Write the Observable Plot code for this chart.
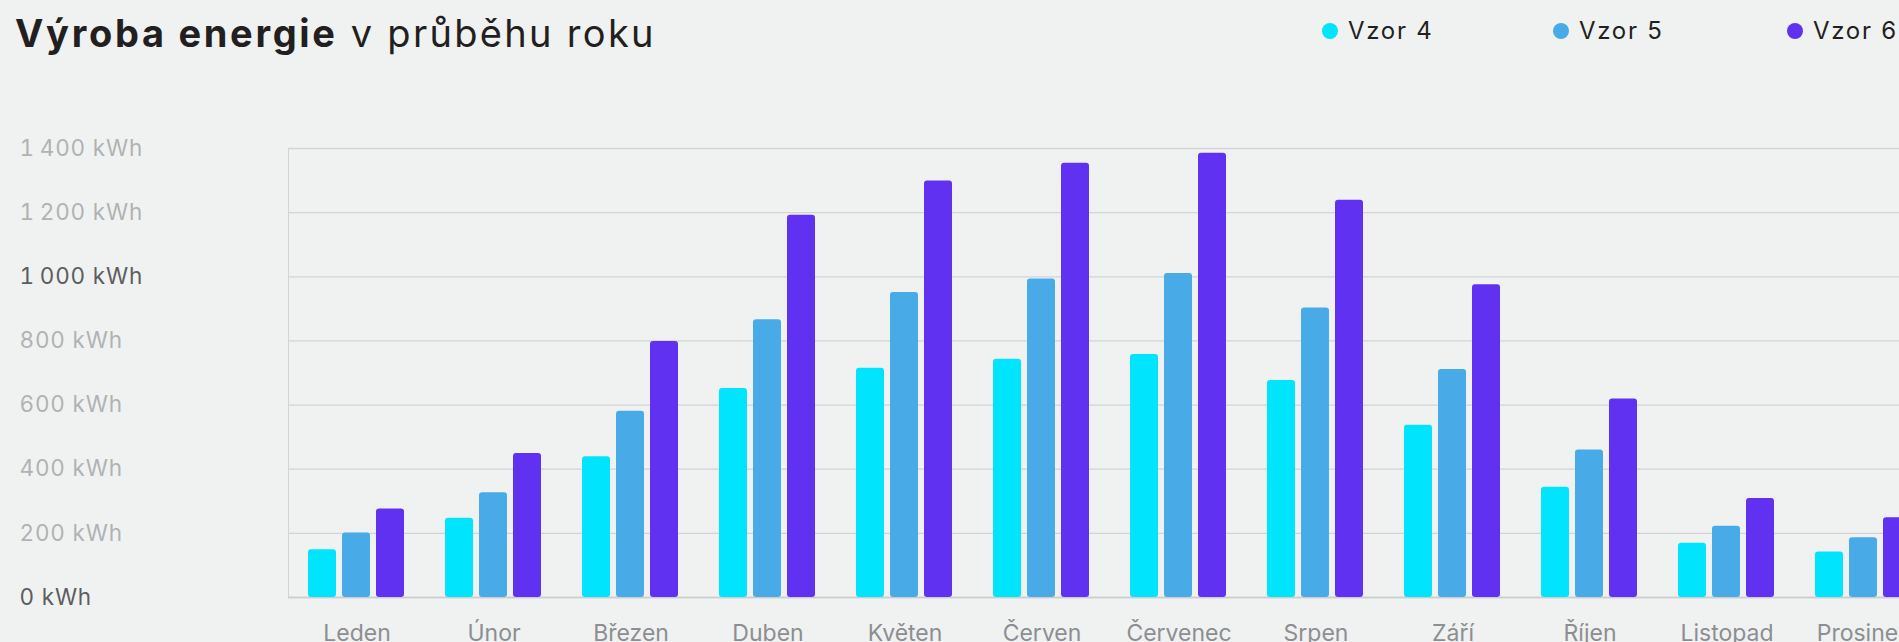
<!DOCTYPE html>
<html>
<head>
<meta charset="utf-8">
<script src="https://cdn.jsdelivr.net/npm/d3@7"></script>
<script src="https://cdn.jsdelivr.net/npm/@observablehq/plot@0.6"></script>
<style>
  html, body { margin: 0; padding: 0; background: #f0f2f1; overflow: hidden; width: 1899px; height: 642px; }
  #header { position: relative; height: 100px; font-family: Inter, "Open Sans", sans-serif; color: #231f20; }
  #title { position: absolute; left: 15px; top: 10px; font-size: 38px; white-space: nowrap; }
  #title b { font-weight: 700; letter-spacing: 2.7px; }
  #title span { font-weight: 400; letter-spacing: 2.3px; }
  .lg { position: absolute; top: 16px; font-size: 24px; letter-spacing: 1.7px; display: flex; align-items: center; white-space: nowrap; }
  .lg i { display: inline-block; width: 16px; height: 16px; border-radius: 50%; margin-right: 10px; }
  #chart svg { display: block; max-width: none !important; }
  #chart g[aria-label="y-axis tick label"] text { letter-spacing: 0.8px; }
</style>
</head>
<body>
<div id="header">
  <div id="title"><b>Výroba energie</b><span> v průběhu roku</span></div>
</div>
<div id="chart"></div>
<script>
const months = ["Leden", "Únor", "Březen", "Duben", "Květen", "Červen", "Červenec", "Srpen", "Září", "Říjen", "Listopad", "Prosinec"];
const series = ["Vzor 4", "Vzor 5", "Vzor 6"];
const colors = ["#00e5fd", "#48abe7", "#6131f2"];
const vzor4 = [149, 247, 439, 652, 715, 743, 758, 677, 537, 344, 169, 142];
const vzor5 = [201, 327, 581, 866, 951, 993, 1010, 903, 711, 460, 222, 186];
const vzor6 = [276, 449, 798, 1192, 1299, 1354, 1385, 1239, 975, 619, 309, 249];
const yTicks = [0, 200, 400, 600, 800, 1000, 1200, 1400];
const darkTicks = [0, 1000];
const legendX = [1322, 1553, 1787];

const values = [vzor4, vzor5, vzor6];
const data = [];
months.forEach((m, i) => series.forEach((s, j) => data.push({month: m, series: s, value: values[j][i]})));

// legend
const header = document.getElementById("header");
series.forEach((s, j) => {
  const d = document.createElement("div");
  d.className = "lg";
  d.style.left = legendX[j] + "px";
  d.innerHTML = `<i style="background:${colors[j]}"></i>${s}`;
  header.appendChild(d);
});

const fmt = d => d3.format(",")(d).replace(",", "\u2009") + " kWh";

const chart = Plot.plot({
  width: 1932,
  height: 542,
  marginLeft: 288,
  marginRight: 0,
  marginTop: 48,
  marginBottom: 45,
  style: {background: "transparent", fontFamily: "Inter, 'Open Sans', sans-serif", overflow: "visible", maxWidth: "none"},
  fx: {domain: months, padding: 0, label: null},
  x: {domain: series, paddingInner: 0.174, paddingOuter: 0.571, axis: null},
  y: {domain: [0, 1400], axis: null},
  color: {domain: series, range: colors},
  marks: [
    Plot.gridY(yTicks, {stroke: "#d2d4d5", strokeOpacity: 1, strokeWidth: 1.3}),
    Plot.frame({anchor: "left", facetAnchor: "left", stroke: "#d2d4d5"}),
    Plot.ruleY([0], {stroke: "#cbcdce", strokeWidth: 1.5}),
    Plot.barY(data, {fx: "month", x: "series", y: "value", fill: "series", rx: 3}),
    Plot.axisY(yTicks.filter(t => !darkTicks.includes(t)), {anchor: "left", tickSize: 0, tickPadding: 269, textAnchor: "start", tickFormat: fmt, fontSize: 22.5, fill: "#b0b2b4", label: null}),
    Plot.axisY(darkTicks, {anchor: "left", tickSize: 0, tickPadding: 269, textAnchor: "start", tickFormat: fmt, fontSize: 22.5, fill: "#5b5d60", label: null}),
    Plot.axisFx({anchor: "bottom", tickSize: 0, tickPadding: 27, fontSize: 23, fill: "#8c8e91", label: null})
  ]
});
document.getElementById("chart").appendChild(chart);
</script>
</body>
</html>
